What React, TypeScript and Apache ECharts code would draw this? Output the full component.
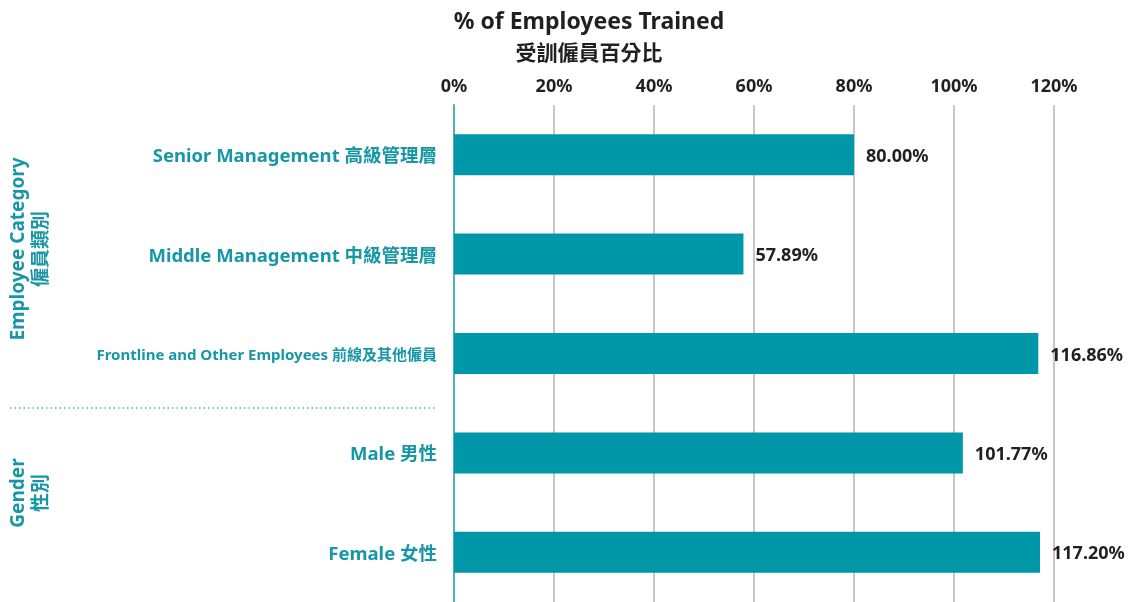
import React, { useEffect, useRef } from "react";
import * as echarts from "echarts";

const categories = [
  "Senior Management 高級管理層",
  "Middle Management 中級管理層",
  "Frontline and Other Employees 前線及其他僱員",
  "Male 男性",
  "Female 女性",
];
const values = [80.0, 57.89, 116.86, 101.77, 117.2];
const titleLine1 = "% of Employees Trained";
const titleLine2 = "受訓僱員百分比";
const groupLabels = ["Employee Category\n僱員類別", "Gender\n性別"];

const FONT = "'Noto Sans', 'Noto Sans CJK TC', sans-serif";
const CJK_FONT = "'Liberation Sans', 'Noto Sans CJK TC', sans-serif";
const TEAL = "#0097A9";
const LABEL_TEAL = "#1797A6";
const DARK = "#231F20";

export default function App() {
  const ref = useRef<HTMLDivElement>(null);
  useEffect(() => {
    if (!ref.current) return;
    const chart = echarts.init(ref.current, undefined, { renderer: "svg" });
    chart.setOption({
      animation: false,
      grid: { left: 454, right: 79, top: 105, bottom: -3, containLabel: false },
      xAxis: {
        type: "value",
        position: "top",
        min: 0,
        max: 120,
        interval: 20,
        axisLine: { show: false },
        axisTick: { show: false },
        axisLabel: {
          formatter: "{value}%",
          fontSize: 18,
          fontWeight: "bold",
          color: DARK,
          fontFamily: FONT,
          margin: 11,
        },
        splitLine: { show: true, lineStyle: { color: "#b5b5b5", width: 1.5 } },
      },
      yAxis: {
        type: "category",
        data: categories,
        inverse: true,
        axisLine: { show: true, lineStyle: { color: "#4fb0bd", width: 2 } },
        axisTick: { show: false },
        axisLabel: {
          margin: 17,
          color: LABEL_TEAL,
          fontWeight: "bold",
          fontSize: 18.5,
          fontFamily: FONT,
          formatter: (v: string) =>
            v.startsWith("Frontline") ? "{small|" + v + "}" : v,
          rich: {
            small: {
              fontSize: 15,
              fontWeight: "bold",
              color: LABEL_TEAL,
              fontFamily: FONT,
            },
          },
        },
      },
      series: [
        {
          type: "bar",
          data: values,
          barWidth: 41,
          itemStyle: { color: TEAL },
          label: {
            show: true,
            position: "right",
            distance: 12,
            color: DARK,
            fontWeight: "bold",
            fontSize: 18,
            fontFamily: FONT,
            formatter: (p: any) => p.value.toFixed(2) + "%",
          },
        },
      ],
      graphic: [
        {
          type: "text",
          x: 589,
          y: 20,
          style: {
            text: titleLine1,
            fontSize: 23,
            fontWeight: "bold",
            fill: DARK,
            fontFamily: FONT,
            align: "center",
            verticalAlign: "middle",
          },
        },
        {
          type: "text",
          x: 589,
          y: 52,
          style: {
            text: titleLine2,
            fontSize: 21,
            fontWeight: "bold",
            fill: DARK,
            fontFamily: CJK_FONT,
            align: "center",
            verticalAlign: "middle",
          },
        },
        {
          type: "text",
          x: 28,
          y: 249,
          rotation: Math.PI / 2,
          style: {
            text: groupLabels[0],
            fontSize: 19,
            fontWeight: "bold",
            fill: LABEL_TEAL,
            fontFamily: FONT,
            align: "center",
            verticalAlign: "middle",
            lineHeight: 23,
          },
        },
        {
          type: "text",
          x: 28,
          y: 493,
          rotation: Math.PI / 2,
          style: {
            text: groupLabels[1],
            fontSize: 19,
            fontWeight: "bold",
            fill: LABEL_TEAL,
            fontFamily: FONT,
            align: "center",
            verticalAlign: "middle",
            lineHeight: 23,
          },
        },
        {
          type: "line",
          shape: { x1: 10, y1: 408, x2: 437, y2: 408 },
          style: { stroke: "#4fb0bd", lineWidth: 1.5, lineDash: [1.5, 3] },
        },
      ],
    });
    return () => chart.dispose();
  }, []);
  return (
    <div
      ref={ref}
      style={{ position: "fixed", left: 0, top: 0, width: 1133, height: 602 }}
    />
  );
}
